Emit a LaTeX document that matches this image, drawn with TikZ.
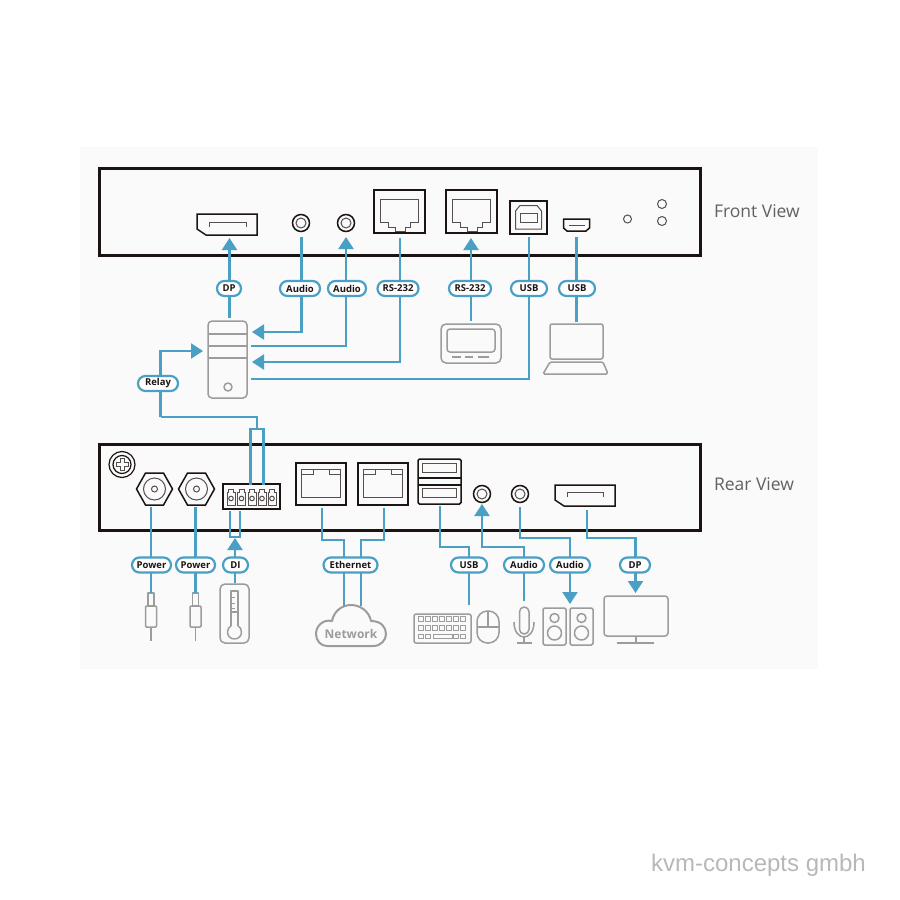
\documentclass[tikz,border=0pt]{standalone}
\usepackage{fontspec}
\setmainfont{Open Sans}
\newfontfamily\markfont{Liberation Sans}
\usetikzlibrary{arrows.meta,backgrounds,shapes.misc}
\definecolor{wireblue}{HTML}{4A9FC5}
\definecolor{panelgrey}{HTML}{FAFAFA}
\definecolor{devgrey}{HTML}{9C9C9C}
\definecolor{boxblack}{HTML}{1C1412}
\tikzset{
	wire/.style={draw=wireblue, line width=2.2pt},
	wirearrow/.style={wire, -{Triangle[length=12pt,width=15pt]}},
	pill/.style={rounded rectangle, draw=wireblue, line width=2.2pt, fill=white, text=boxblack,
		minimum height=15pt, minimum width=#1, inner sep=0pt, font=\fontsize{9.5}{10}\selectfont\bfseries},
	chassis/.style={draw=boxblack, line width=3pt},
	port/.style={draw=boxblack, line width=1.5pt},
	portin/.style={draw=boxblack!75, line width=1pt},
	device/.style={draw=devgrey, line width=1.5pt, line join=round, rounded corners=#1},
	device/.default=0pt,
	viewtext/.style={text=black!62, font=\fontsize{17.5}{19}\selectfont},
}
\begin{document}
\begin{tikzpicture}[x=1pt, y=-1pt]
	\useasboundingbox (0,0) rectangle (900,900);

	\node[pill=24pt] (dpf) at (229,288.5) {DP};
	\node[pill=40pt] (audiofa) at (300,288.5) {Audio};
	\node[pill=38pt] (audiofb) at (347,288.5) {Audio};
	\node[pill=41pt] (rsfa) at (398,288.5) {RS-232};
	\node[pill=42pt] (rsfb) at (470,288.5) {RS-232};
	\node[pill=36pt] (usbfa) at (529,288.5) {USB};
	\node[pill=36pt] (usbfb) at (577,288.5) {USB};
	\node[pill=40pt] (relay) at (158,383.5) {Relay};
	\node[pill=39pt] (powera) at (151.5,565) {Power};
	\node[pill=39pt] (powerb) at (195.5,565) {Power};
	\node[pill=25pt] (di) at (235.5,565) {DI};
	\node[pill=54pt] (ethernet) at (350.5,565) {Ethernet};
	\node[pill=36pt] (usbr) at (469,565) {USB};
	\node[pill=40pt] (audiora) at (524,565) {Audio};
	\node[pill=40pt] (audiorb) at (570,565) {Audio};
	\node[pill=30pt] (dpr) at (635,565) {DP};

	\node[viewtext, anchor=west] (frontview) at (710.5,211) {Front View};
	\node[viewtext, anchor=west] (rearview) at (710.5,484.5) {Rear View};
	\node[text=devgrey, font=\fontsize{12}{13}\selectfont\bfseries] (network) at (351,633.5) {Network};
	\node[text=black!28, font=\markfont\fontsize{24}{26}\selectfont] (brand) at (758.5,865.5) {kvm-concepts gmbh};

	\coordinate (fdp) at (229.5,238);
	\coordinate (fauda) at (301.5,237);
	\coordinate (faudb) at (346,237);
	\coordinate (frsa) at (400,238);
	\coordinate (frsb) at (471,238);
	\coordinate (fusba) at (529,237);
	\coordinate (fusbb) at (576.5,237);
	\coordinate (pctop) at (229.5,318);
	\coordinate (pcaudioa) at (252,332);
	\coordinate (pcaudiob) at (251,346);
	\coordinate (pcrs) at (252,362);
	\coordinate (pcusb) at (251,379);
	\coordinate (pcrelay) at (203,351);
	\coordinate (touch) at (471,321);
	\coordinate (laptop) at (576.5,322);
	\coordinate (relayl) at (160.5,417);
	\coordinate (relayt) at (257,429);
	\coordinate (relaya) at (250.5,485);
	\coordinate (relayb) at (263.5,485);
	\coordinate (rpwra) at (151,507);
	\coordinate (rpwrb) at (195.5,507);
	\coordinate (pluga) at (151,593);
	\coordinate (plugb) at (195.5,593);
	\coordinate (dia) at (230,511);
	\coordinate (dib) at (240,511);
	\coordinate (dijoin) at (235,537);
	\coordinate (ditip) at (235,538);
	\coordinate (thermo) at (235,583);
	\coordinate (rlana) at (322,508);
	\coordinate (rlanb) at (384,508);
	\coordinate (clouda) at (344,606);
	\coordinate (cloudb) at (361,606);
	\coordinate (lanrow) at (0,540);
	\coordinate (lowrow) at (0,547);
	\coordinate (highrow) at (0,538);
	\coordinate (rusb) at (440,506);
	\coordinate (keyb) at (469,605);
	\coordinate (rauda) at (482,504);
	\coordinate (raudb) at (520,507);
	\coordinate (rdp) at (587,510);
	\coordinate (mic) at (524,601);
	\coordinate (speaker) at (570,604);
	\coordinate (monitor) at (635.5,593);

	\begin{scope}[on background layer]
	\fill[panelgrey] (80,147) rectangle (818,669);
	\draw[chassis] (99.5,168.5) rectangle (700.5,255.5);
	\draw[chassis] (99.5,444.5) rectangle (700.5,530.5);

	\draw[port] (197,214) -- (257,214) -- (257,235) -- (206,235) -- (197,229) -- cycle;
	\draw[portin] (209,227) -- (209,222) -- (246,222) -- (246,227);
	\foreach \x in {301,346} {
		\draw[port] (\x,223) circle[radius=8.5];
		\draw[portin] (\x,223) circle[radius=5];
	}
	\foreach \x in {374,446} {
		\draw[port] (\x,190) rectangle (\x+51,233);
		\draw[portin] (\x+6,199) -- (\x+44,199) -- (\x+44,222.5) -- (\x+36,222.5) -- (\x+36,227) -- (\x+31,227)
			-- (\x+31,231) -- (\x+21,231) -- (\x+21,227) -- (\x+14,227) -- (\x+14,222.5) -- (\x+6,222.5) -- cycle;
	}
	\draw[port] (510,201) rectangle (547,234);
	\draw[portin] (515.5,229) -- (515.5,211) -- (520,205.5) -- (537,205.5) -- (541.5,211) -- (541.5,229) -- cycle;
	\draw[portin] (520,213) rectangle (537,222);
	\draw[port] (563.5,219) -- (589.5,219) -- (589.5,228) -- (586,231) -- (567,231) -- (563.5,228) -- cycle;
	\draw[portin] (569,225) -- (585,225);
	\draw[portin] (627.5,219) circle[radius=4];
	\draw[portin] (662,204) circle[radius=4.5];
	\draw[portin] (662,221) circle[radius=4.5];

	\draw[device=4pt] (208,321) rectangle (247,398);
	\draw[device] (208,334) -- (247,334);
	\draw[device] (208,346) -- (247,346);
	\draw[device] (208,358) -- (247,358);
	\draw[device] (228,387) circle[radius=4];
	\draw[device=5pt] (441,324) rectangle (501,363);
	\draw[device=3pt] (447,329) rectangle (495,352);
	\draw[device] (452,357) -- (461,357);
	\draw[device] (465,357) -- (473,357);
	\draw[device] (478,357) -- (489,357);
	\draw[device=2pt] (550,324) rectangle (603,359);
	\draw[device=1.5pt] (550,362) -- (603,362) -- (608,374) -- (543,374) -- cycle;

	\draw[port, line width=1.2pt] (122,464.5) circle[radius=13];
	\draw[port, line width=1.2pt] (122,464.5) circle[radius=9];
	\draw[portin] (120,458.5) -- (124,458.5) -- (124,462.5) -- (128,462.5) -- (128,466.5) -- (124,466.5) -- (124,470.5)
		-- (120,470.5) -- (120,466.5) -- (116,466.5) -- (116,462.5) -- (120,462.5) -- cycle;
	\foreach \x in {154.5,196.5} {
		\draw[port] (\x-18,489) -- (\x-9,473) -- (\x+9,473) -- (\x+18,489) -- (\x+9,505) -- (\x-9,505) -- cycle;
		\draw[portin] (\x,489) circle[radius=11];
		\draw[portin] (\x,489) circle[radius=3];
	}
	\draw[port] (223,484) rectangle (280,509);
	\foreach \x in {231,241.5,252,262,272} {
		\draw[portin] (\x-4,492) -- (\x-2.5,492) -- (\x-2.5,489.5) -- (\x+2.5,489.5) -- (\x+2.5,492) -- (\x+4,492)
			-- (\x+4,505) -- (\x-4,505) -- cycle;
		\draw[portin] (\x,498.5) circle[radius=2.3];
	}
	\foreach \x in {296,358} {
		\draw[port] (\x,463) rectangle (\x+50,505);
		\draw[portin] (\x+5.5,469) rectangle (\x+44.5,497);
		\draw[portin] (\x+5.5,474) -- (\x+17,474) -- (\x+17,469);
		\draw[portin] (\x+33,469) -- (\x+33,474) -- (\x+44.5,474);
	}
	\draw[port, rounded corners=1.5pt] (418,459) rectangle (461,504);
	\draw[port] (418,478) -- (461,478);
	\draw[port] (418,485) -- (461,485);
	\draw[portin] (422,463) rectangle (456,472);
	\draw[portin] (422,488) rectangle (456,497);
	\foreach \x in {482,520} {
		\draw[port] (\x,494) circle[radius=8.5];
		\draw[portin] (\x,494) circle[radius=5];
	}
	\draw[port] (555,485) -- (615,485) -- (615,506) -- (564,506) -- (555,500) -- cycle;
	\draw[portin] (567,497) -- (567,492) -- (603,492) -- (603,497);

	\foreach \x in {151,195.5} {
		\draw[device] (\x-2.8,593) rectangle (\x+2.8,606);
		\draw[device=1pt] (\x-5.5,606) rectangle (\x+5.5,627);
		\draw[device] (\x,627) -- (\x,641);
	}
	\draw[device=5pt] (220,584) rectangle (249,643);
	\draw[device] (231,626) -- (231,591) -- (238,591) -- (238,626);
	\draw[device] (234.5,639) .. controls (230.5,639) and (227.5,636) .. (227.5,632) .. controls (227.5,629) and (229,627) .. (231,626);
	\draw[device] (234.5,639) .. controls (238.5,639) and (241.5,636) .. (241.5,632) .. controls (241.5,629) and (240,627) .. (238,626);
	\draw[device] (231,612) -- (238,612);
	\foreach \y in {597,603,608} {
		\draw[device, line width=1pt] (231,\y) -- (235,\y);
	}
	\draw[device, line width=2pt] (327,646) -- (373,646)
		.. controls (381,646) and (386,640) .. (386,634) .. controls (386,627) and (381,621) .. (371,621)
		.. controls (369,611) and (360,605) .. (351,605) .. controls (342,605) and (334,611) .. (332,621)
		.. controls (323,619) and (316,626) .. (316,634) .. controls (316,641) and (321,646) .. (327,646);
	\draw[device=2pt] (414,614) rectangle (471,643);
	\foreach \y in {619,628} {
		\foreach \x in {418.5,425.5,432.5,439.5,446.5,453.5,460.5} {
			\draw[device, line width=1pt] (\x,\y-2.2) rectangle (\x+4.5,\y+2.2);
		}
	}
	\foreach \x in {418.5,425.5,453.5,460.5} {
		\draw[device, line width=1pt] (\x,634) rectangle (\x+4.5,638.5);
	}
	\draw[device, line width=1pt] (433,634) rectangle (452,638.5);
	\draw[device=10.5pt] (477,611) rectangle (499,643);
	\draw[device] (477,627) -- (499,627);
	\draw[device] (488,611) -- (488,627);
	\draw[device=4.7pt] (519.5,607) rectangle (529,634);
	\draw[device] (514,622) .. controls (514,632) and (519,637) .. (524,637) .. controls (529,637) and (534,632) .. (534,622);
	\draw[device] (524,637) -- (524,643);
	\draw[device] (517,643) -- (532,643);
	\foreach \x in {543,570} {
		\draw[device=1.5pt] (\x,608) rectangle (\x+23,645);
		\draw[device] (\x+11.5,618) circle[radius=4.5];
		\draw[device] (\x+11.5,633) circle[radius=7];
	}
	\draw[device=3pt] (604,596) rectangle (668,636);
	\draw[device] (636,636) -- (636,643);
	\draw[device] (617,643) -- (654,643);

	\draw[wirearrow] (pctop) -- (pctop |- dpf) -- (fdp);
	\draw[wirearrow] (fauda) -- (fauda |- audiofa) |- (pcaudioa);
	\draw[wirearrow] (pcaudiob) -| (faudb |- audiofb) -- (faudb);
	\draw[wirearrow] (frsa) -- (frsa |- rsfa) |- (pcrs);
	\draw[wirearrow] (touch) -- (touch |- rsfb) -- (frsb);
	\draw[wire] (fusba) -- (fusba |- usbfa) |- (pcusb);
	\draw[wire] (fusbb) -- (fusbb |- usbfb) -- (laptop);
	\draw[wirearrow] (relayl) -- (relayl |- relay) |- (pcrelay);
	\draw[wire] (relayl) -| (relayt);
	\draw[wire] (relaya) |- (relayt) -| (relayb);
	\draw[wire] (rpwra) -- (rpwra |- powera) -- (pluga);
	\draw[wire] (rpwrb) -- (rpwrb |- powerb) -- (plugb);
	\draw[wire] (dia) |- (dijoin) -| (dib);
	\draw[wirearrow] (thermo) -- (thermo |- di) -- (ditip);
	\draw[wire] (rlana) |- (clouda |- lanrow) -- (clouda |- ethernet) -- (clouda);
	\draw[wire] (rlanb) |- (cloudb |- lanrow) -- (cloudb |- ethernet) -- (cloudb);
	\draw[wire] (rusb) |- (keyb |- lowrow) -- (keyb |- usbr) -- (keyb);
	\draw[wirearrow] (mic) -- (mic |- audiora) |- (rauda |- lowrow) -- (rauda);
	\draw[wirearrow] (raudb) |- (speaker |- highrow) -- (speaker |- audiorb) -- (speaker);
	\draw[wirearrow] (rdp) |- (monitor |- highrow) -- (monitor |- dpr) -- (monitor);
	\end{scope}
\end{tikzpicture}
\end{document}
